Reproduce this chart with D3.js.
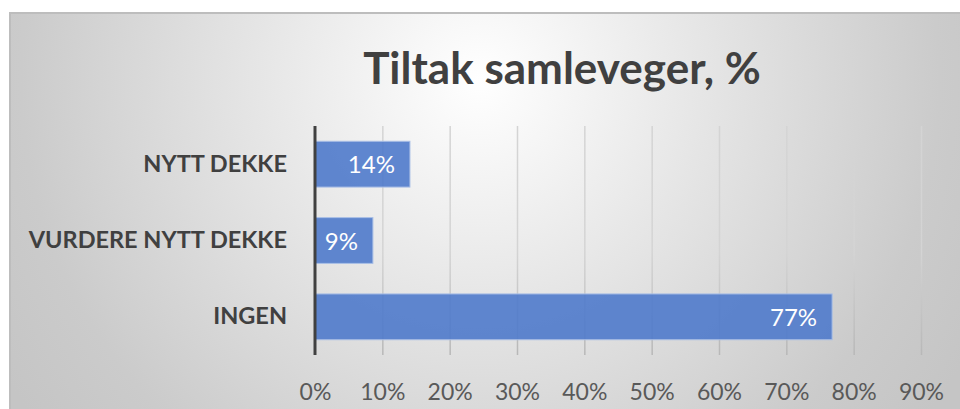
<!DOCTYPE html>
<html>
<head>
<meta charset="utf-8">
<script src="https://cdn.jsdelivr.net/npm/d3@7"></script>
<style>
  html, body { margin: 0; padding: 0; background: #fff; }
  svg { display: block; font-family: Lato, "Open Sans", sans-serif; }
</style>
</head>
<body>
<div id="chart"></div>
<script>
// data
const chartTitle = "Tiltak samleveger, %";
const categories = ["NYTT DEKKE", "VURDERE NYTT DEKKE", "INGEN"];
const values = [14.1, 8.6, 76.8];
const xTicks = [0, 10, 20, 30, 40, 50, 60, 70, 80, 90];

const W = 960, H = 409;
const margin = { top: 126, right: 39, bottom: 54, left: 315 };
const width = W - margin.left - margin.right;
const height = H - margin.top - margin.bottom;

const svg = d3.select("#chart")
    .append("svg")
    .attr("width", W)
    .attr("height", H);

// background gradient
const defs = svg.append("defs");
const bg = defs.append("radialGradient")
    .attr("id", "bg")
    .attr("gradientUnits", "userSpaceOnUse")
    .attr("cx", 480).attr("cy", 80).attr("r", 560);
bg.append("stop").attr("offset", 0).attr("stop-color", "#ffffff");
bg.append("stop").attr("offset", 0.82).attr("stop-color", "#cbcbcb");
bg.append("stop").attr("offset", 1).attr("stop-color", "#c5c5c5");

const gl = defs.append("linearGradient")
    .attr("id", "gridGrad")
    .attr("gradientUnits", "userSpaceOnUse")
    .attr("x1", 0).attr("y1", margin.top).attr("x2", 0).attr("y2", margin.top + height);
gl.append("stop").attr("offset", 0).attr("stop-color", "#d4d4d4");
gl.append("stop").attr("offset", 1).attr("stop-color", "#959595");

svg.append("rect")
    .attr("x", 10).attr("y", 13)
    .attr("width", W).attr("height", H)
    .attr("fill", "url(#bg)")
    .attr("stroke", "#bdbdbd")
    .attr("stroke-width", 2);

svg.append("text")
    .attr("x", 562)
    .attr("y", 84)
    .attr("text-anchor", "middle")
    .style("font-size", "44px")
    .style("font-weight", "bold")
    .style("fill", "#404040")
    .text(chartTitle);

const g = svg.append("g")
    .attr("transform", `translate(${margin.left},${margin.top})`);

const xScale = d3.scaleLinear().domain([0, 90]).range([0, width]);
const yScale = d3.scaleBand().domain(categories).range([0, height]).paddingInner(0.4).paddingOuter(0.2);

// gridlines
const xGrid = d3.axisBottom(xScale).tickValues(xTicks.slice(1)).tickSize(height).tickFormat("");
g.append("g")
    .attr("class", "grid")
    .call(xGrid)
    .call(s => s.select(".domain").remove())
    .call(s => s.selectAll("line").attr("stroke", "url(#gridGrad)").attr("stroke-width", 1.5));

// bars
g.selectAll(".bar")
    .data(values)
    .join("rect")
    .attr("class", "bar")
    .attr("x", xScale(0))
    .attr("y", (d, i) => yScale(categories[i]))
    .attr("width", d => xScale(d))
    .attr("height", yScale.bandwidth())
    .attr("fill", "#4f7acb")
    .attr("fill-opacity", 0.9)
    .attr("stroke", "#a9bfe6")
    .attr("stroke-width", 1);

// value labels
g.selectAll(".val")
    .data(values)
    .join("text")
    .attr("class", "val")
    .attr("x", d => xScale(d) - 15)
    .attr("y", (d, i) => yScale(categories[i]) + yScale.bandwidth() / 2 + 9)
    .attr("text-anchor", "end")
    .style("font-size", "24px")
    .style("fill", "#ffffff")
    .text(d => Math.round(d) + "%");

// x axis labels
const xAxis = d3.axisBottom(xScale).tickValues(xTicks).tickSize(0).tickPadding(29).tickFormat(d => d + "%");
g.append("g")
    .attr("class", "x-axis")
    .attr("transform", `translate(0,${height})`)
    .call(xAxis)
    .call(s => s.select(".domain").remove())
    .call(s => s.selectAll("text").style("font-size", "23px").style("fill", "#595959").style("font-family", "Lato, sans-serif"));

// y axis
const yAxis = d3.axisLeft(yScale).tickSize(0).tickPadding(28);
g.append("g")
    .attr("class", "y-axis")
    .call(yAxis)
    .call(s => s.select(".domain").remove())
    .call(s => s.selectAll("text").style("font-size", "23.5px").style("font-weight", "bold").style("fill", "#404040").style("font-family", "Lato, sans-serif"));

g.append("line")
    .attr("x1", xScale(0)).attr("x2", xScale(0))
    .attr("y1", 0).attr("y2", height)
    .attr("stroke", "#404040")
    .attr("stroke-width", 3);
</script>
</body>
</html>
